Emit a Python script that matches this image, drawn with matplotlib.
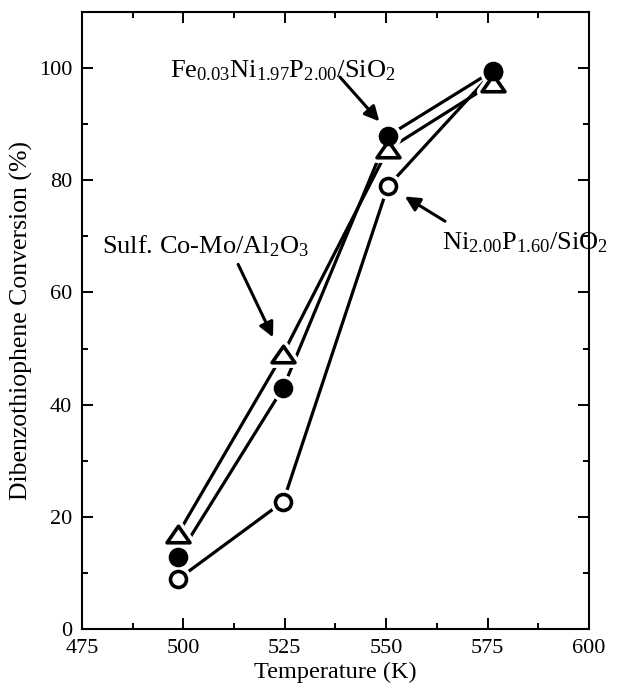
import matplotlib
matplotlib.use("Agg")
import matplotlib.pyplot as plt
from matplotlib.ticker import MultipleLocator
from matplotlib.markers import MarkerStyle
from matplotlib.path import Path

plt.rcParams['font.family'] = ['Liberation Serif', 'DejaVu Serif']
plt.rcParams['mathtext.fontset'] = 'custom'
plt.rcParams['mathtext.rm'] = 'Liberation Serif'
plt.rcParams['mathtext.it'] = 'Liberation Serif:italic'
plt.rcParams['mathtext.bf'] = 'Liberation Serif:bold'

# Data
temperature = [498.7, 524.6, 550.4, 576.3]
fe_ni_p = [12.9, 43.0, 87.9, 99.5]        # filled circles
ni_p = [8.9, 22.7, 78.9, 99.3]            # open circles
co_mo = [17.0, 49.1, 85.5, 97.3]          # open triangles

xticks = [475, 500, 525, 550, 575, 600]
yticks = [0, 20, 40, 60, 80, 100]

fig = plt.figure(figsize=(6.24, 6.86), dpi=100)
ax = fig.add_axes([82/624, 1-629/686, (589-82)/624, (629-12)/686])

tri_path = Path([(-1, -0.72), (1, -0.72), (0, 0.72), (-1, -0.72)],
                [Path.MOVETO, Path.LINETO, Path.LINETO, Path.CLOSEPOLY])

series = [
    (ni_p, 'o', 'white', 11.5, 4),
    (co_mo, tri_path, 'white', 16.5, 5),
    (fe_ni_p, 'o', 'black', 11.5, 6),
]

lw = 2.3
for ys, mk, face, ms, z in series:
    ax.plot(temperature, ys, color='black', lw=lw, zorder=2, solid_capstyle='butt')

for ys, mk, face, ms, z in series:
    halo = MarkerStyle(mk, joinstyle='round')
    ax.plot(temperature, ys, linestyle='none', marker=halo, ms=ms,
            mfc='white', mec='white', mew=7.5, zorder=3)

for ys, mk, face, ms, z in series:
    ax.plot(temperature, ys, linestyle='none', marker=mk, ms=ms,
            mfc=face, mec='black', mew=2.6, zorder=z)

ax.set_xlim(475, 600)
ax.set_ylim(0, 110)
ax.set_xticks(xticks)
ax.set_yticks(yticks)
ax.xaxis.set_minor_locator(MultipleLocator(12.5))
ax.yaxis.set_minor_locator(MultipleLocator(10))
ax.tick_params(which='both', direction='in', top=True, right=True, width=1.4,
               labelsize=16, colors='black')
ax.tick_params(which='major', length=8, pad=7)
ax.tick_params(which='minor', length=4.5)
for s in ax.spines.values():
    s.set_linewidth(1.5)

ax.set_xlabel('Temperature (K)', fontsize=17.5, labelpad=3)
ax.set_ylabel('Dibenzothiophene Conversion (%)', fontsize=18.5, labelpad=4)

# Annotations
fs = 19
ax.text(496.7, 98.4, r'Fe$_{0.03}$Ni$_{1.97}$P$_{2.00}$/SiO$_2$', fontsize=fs,
        ha='left', va='baseline', zorder=7)
ax.text(563.8, 67.7, r'Ni$_{2.00}$P$_{1.60}$/SiO$_2$', fontsize=fs,
        ha='left', va='baseline', zorder=7)
ax.text(479.9, 67.0, r'Sulf. Co-Mo/Al$_2$O$_3$', fontsize=fs,
        ha='left', va='baseline', zorder=7)

arrow_kw = dict(arrowstyle='-|>', lw=2.2, color='black', mutation_scale=22,
                shrinkA=0, shrinkB=0)
ax.annotate('', xy=(548.3, 90.5), xytext=(538.6, 98.4), arrowprops=arrow_kw, zorder=7)
ax.annotate('', xy=(554.6, 77.1), xytext=(564.5, 72.7), arrowprops=arrow_kw, zorder=7)
ax.annotate('', xy=(522.1, 52.0), xytext=(513.5, 65.0), arrowprops=arrow_kw, zorder=7)

fig.savefig('out.png', dpi=100)
